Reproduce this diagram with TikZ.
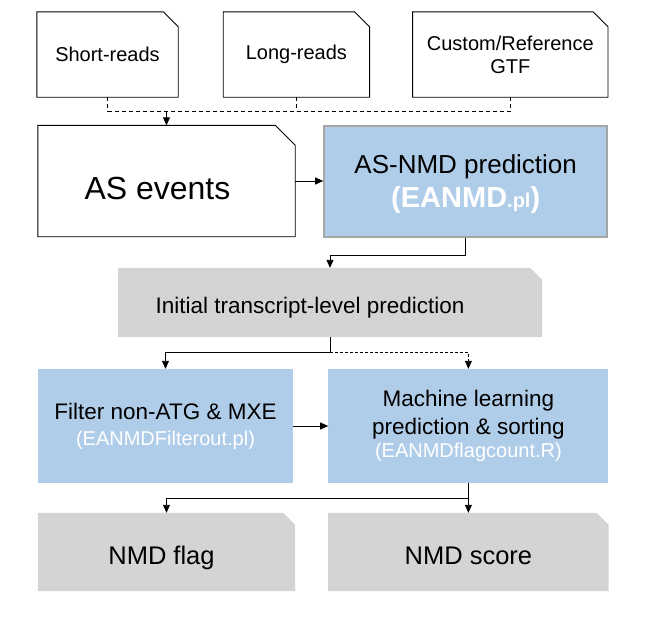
\documentclass[tikz,border=0pt]{standalone}
\usepackage{fontspec}
\setmainfont{Liberation Sans}
\usetikzlibrary{positioning,arrows.meta,backgrounds}
\definecolor{boxblue}{RGB}{175,204,233}
\definecolor{boxgrey}{RGB}{212,212,212}
\definecolor{framegrey}{RGB}{166,166,166}

\begin{document}
\begin{tikzpicture}[x=1pt,y=1pt,
      every node/.style={rectangle,inner sep=0pt,align=center},
      input/.style={minimum height=85pt,font=\fontsize{20}{23}\selectfont},
      bluebox/.style={fill=boxblue,minimum height=114pt,
                      font=\fontsize{22.5}{26}\selectfont},
      greybox/.style={font=\fontsize{25.5}{30}\selectfont,
                      text height=25pt,text depth=0pt},
      line/.style={draw,line width=0.9pt},
      single/.style={line,-{Triangle[length=8pt,width=7pt]}},
      dashline/.style={line,dash pattern=on 4pt off 3pt},
    ]
      \useasboundingbox (0,0) rectangle (653,-622);

      % inputs
      \node[input,minimum width=141pt] (short) at (107.5,-54.5) {Short-reads};
      \node[input,minimum width=146pt,right=45pt of short] (long) {Long-reads};
      \node[input,minimum width=195pt,right=43pt of long] (gtf) {Custom/Reference\\GTF};

      % AS events and prediction
      \node[minimum width=257pt,minimum height=111pt,text height=36pt,text depth=0pt,
            font=\fontsize{32}{36}\selectfont] (events) at (166.5,-181) {AS events\kern18pt};
      \node[bluebox,draw=framegrey,line width=2pt,minimum width=283pt,
            minimum height=111pt,font=\fontsize{26}{34}\selectfont,text depth=-4pt,
            right=28pt of events] (predict)
            {AS-NMD prediction\\
             {\color{white}\fontsize{29}{34}\selectfont\bfseries
              (EANMD{\fontsize{20}{22}\selectfont.pl})}};

      \node[greybox,minimum width=424pt,minimum height=69pt,text height=21pt,
            font=\fontsize{22.5}{26}\selectfont] (initial) at (330,-302.5)
            {Initial transcript-level prediction\kern40pt};

      \node[bluebox,minimum width=255pt] (filter) at (165.5,-426)
            {Filter non-ATG \& MXE\\
             {\fontsize{20}{22}\selectfont\color{white}(EANMDFilterout.pl)}};
      \node[bluebox,minimum width=280pt,right=35pt of filter,
            font=\fontsize{22.5}{28}\selectfont] (machine)
            {Machine learning\\prediction \& sorting\\[-5pt]
             {\fontsize{20}{22}\selectfont\color{white}(EANMDflagcount.R)}};

      % outputs
      \node[greybox,minimum width=257pt,minimum height=78pt] (flag) at (166.5,-552) {NMD flag\kern10pt};
      \node[greybox,minimum width=280pt,minimum height=78pt,right=33pt of flag] (score) {NMD score};

      % cut corner outlines
      \foreach \nm/\cut in {short/15pt,long/15pt,gtf/15pt,events/20pt}
        \draw[line] (\nm.south west) -- (\nm.north west)
          -- ([xshift=-\cut]\nm.north east) -- ([yshift=-\cut]\nm.north east)
          -- (\nm.south east) -- cycle;
      \begin{pgfonlayer}{background}
      \foreach \nm in {initial,flag,score}
        \fill[boxgrey] (\nm.south west) -- (\nm.north west)
          -- ([xshift=-12pt]\nm.north east) -- ([yshift=-12pt]\nm.north east)
          -- (\nm.south east) -- cycle;
      \end{pgfonlayer}

      % connectors
      \coordinate (join) at ([yshift=-14pt]short.south -| events.north);
      \draw[dashline] (short.south) |- (gtf.south |- join) -- (gtf.south);
      \draw[dashline] (long.south) -- (long.south |- join);
      \path (join) edge[single] (events.north);
      \draw[single] (events.east) -- (events.east -| predict.west);
      \draw[single] (predict.south) -- ++(0,-18) -| (initial.north);

      \draw[line] (initial.south) -- ++(0,-15) coordinate (split);
      \draw[single] (split) -| (filter.north);
      \draw[single,dash pattern=on 3pt off 2pt] (split) -| (machine.north);
      \draw[single] (filter.east) -- (machine.west);

      \draw[single] (machine.south) -- ++(0,-15) -| (flag.north);
      \draw[single] (machine.south) -- (score.north);
    \end{tikzpicture}
\end{document}
